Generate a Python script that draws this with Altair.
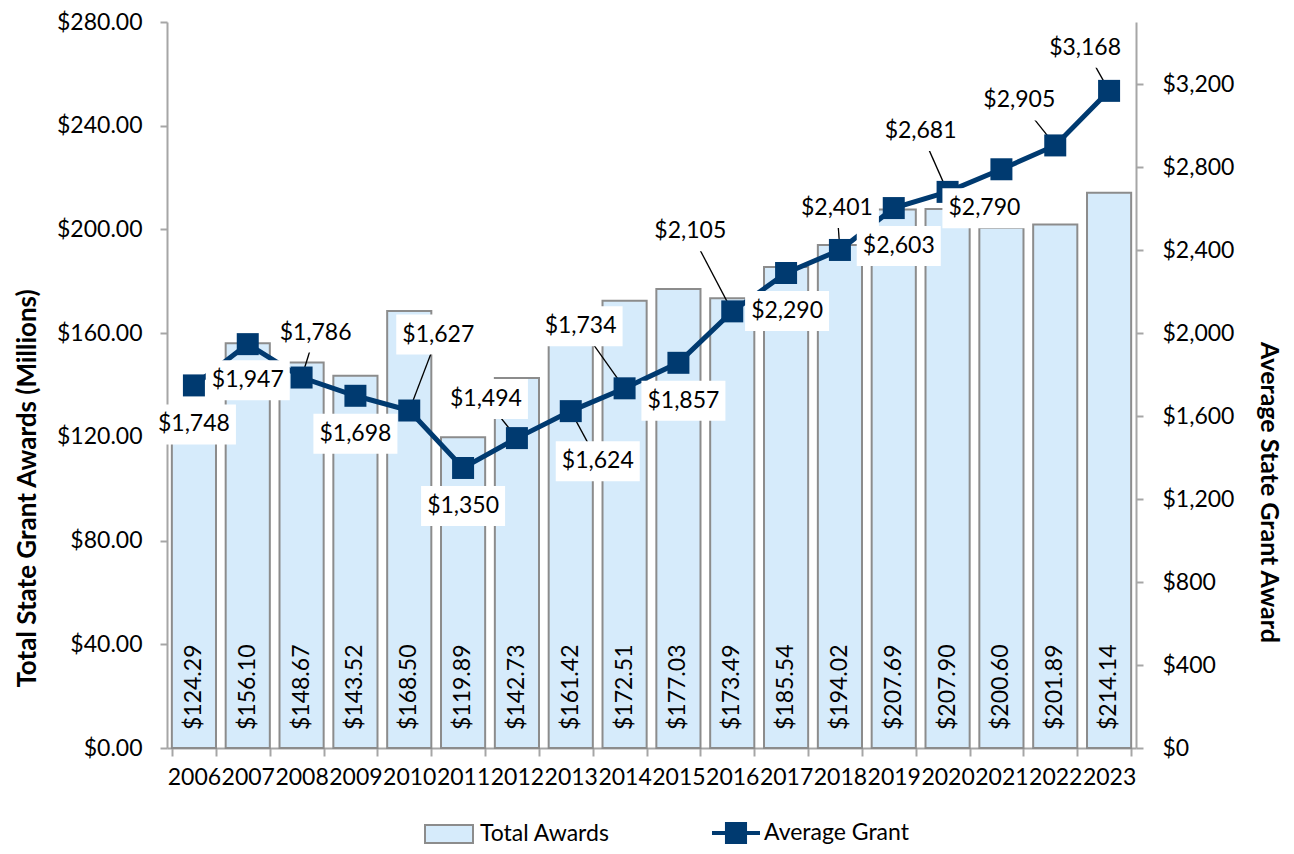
import altair as alt
import pandas as pd

# ---------------- data ----------------
years = list(range(2006, 2024))
total_awards = [124.29, 156.10, 148.67, 143.52, 168.50, 119.89, 142.73, 161.42, 172.51,
                177.03, 173.49, 185.54, 194.02, 207.69, 207.90, 200.60, 201.89, 214.14]
avg_grant = [1748, 1947, 1786, 1698, 1627, 1350, 1494, 1624, 1734,
             1857, 2105, 2290, 2401, 2603, 2681, 2790, 2905, 3168]
left_ticks = [0, 40, 80, 120, 160, 200, 240, 280]
right_ticks = [0, 400, 800, 1200, 1600, 2000, 2400, 2800, 3200]
series_names = ["Total Awards", "Average Grant"]

# ---------------- label placement (pixel offsets from each point; styling) ----------------
label_dx = [0, 0, 14, 0, 29, 0, -31, 27, -44, 5, -42, 1, -3, 5, -27, -17, -36, -24]
label_dy = [39, 36, -45, 38, -76, 38, -39, 50, -62, 38, -80, 38, -42, 38, -61, 39, -45, -43]
has_leader = [False, False, True, False, True, False, True, True, True,
              False, True, False, True, False, True, False, True, True]

W, H = 969, 726
LEFT_MAX, RIGHT_MAX = 280, 3500
step_px = W / len(years)
px_per_dollar = H / RIGHT_MAX

FONT = "Lato"
NAVY = "#003A70"
BAR_FILL = "#D6EBFB"
BAR_STROKE = "#8C8C8C"
AXIS_GRAY = "#A6A6A6"

df = pd.DataFrame({
    "year": [str(y) for y in years],
    "total": total_awards,
    "avg": avg_grant,
    "xq": list(range(len(years))),
    "leader": has_leader,
})
df["lx"] = df["xq"] + pd.Series(label_dx) / step_px
df["ly"] = df["avg"] - pd.Series(label_dy) / px_per_dollar
df["s1"] = series_names[0]
df["s2"] = series_names[1]

base = alt.Chart(df)

# ---------------- left group: bars ----------------
xband = alt.X("year:O",
              scale=alt.Scale(paddingInner=0.18, paddingOuter=0.09),
              axis=alt.Axis(title=None, tickBand="extent", labelAngle=0, labelOverlap=False,
                            labelBound=False, labelFlush=False, tickSize=8, labelPadding=10,
                            domainColor=AXIS_GRAY, tickColor=AXIS_GRAY, domainWidth=2, tickWidth=2))
yleft = alt.Y("total:Q",
              scale=alt.Scale(domain=[0, LEFT_MAX], nice=False),
              axis=alt.Axis(values=left_ticks, format="$,.2f", grid=False,
                            title="Total State Grant Awards (Millions)",
                            tickSize=7, labelPadding=18, domainColor=AXIS_GRAY, tickColor=AXIS_GRAY,
                            domainWidth=2, tickWidth=2, titleFontSize=26,
                            titleAngle=-90, titleX=-140, titleY=466, titleAlign="center",
                            titleBaseline="middle"))

bar_legend = alt.Legend(title=None, orient="none", legendX=257, legendY=787,
                        symbolType="M-1,-0.375H1V0.375H-1Z", symbolSize=2304,
                        symbolStrokeColor=BAR_STROKE, symbolStrokeWidth=2, labelOffset=6)

bars = base.mark_bar(stroke=BAR_STROKE, strokeWidth=2).encode(
    x=xband,
    y=yleft,
    fill=alt.Fill("s1:N", scale=alt.Scale(domain=[series_names[0]], range=[BAR_FILL]),
                  legend=bar_legend),
)

bar_labels = base.mark_text(angle=270, align="left", baseline="middle", dx=18,
                            font=FONT, fontSize=23, color="black").encode(
    x=alt.X("year:O", scale=alt.Scale(paddingInner=0.18, paddingOuter=0.09)),
    y=alt.Y("zero:Q", scale=alt.Scale(domain=[0, LEFT_MAX], nice=False)),
    text=alt.Text("total:Q", format="$,.2f"),
).transform_calculate(zero="0")

left = alt.layer(bars, bar_labels)

# ---------------- right group: line, markers, labels ----------------
xq_scale = alt.Scale(domain=[-0.5, len(years) - 0.5], nice=False, zero=False)
yr_scale = alt.Scale(domain=[0, RIGHT_MAX], nice=False)
yr_axis = alt.Axis(orient="right", values=right_ticks, format="$,.0f", grid=False,
                   title="Average State Grant Award", tickSize=7, labelPadding=19,
                   domainColor=AXIS_GRAY, tickColor=AXIS_GRAY, domainWidth=2, tickWidth=2,
                   titleFontSize=25,
                   titleAngle=90, titleX=132, titleY=470, titleAlign="center",
                   titleBaseline="middle")

def yr(field):
    return alt.Y(field, type="quantitative", scale=yr_scale, axis=yr_axis,
                 title="Average State Grant Award")

def xq(field):
    return alt.X(field, type="quantitative", scale=xq_scale, axis=None)

leaders = base.transform_filter("datum.leader").mark_rule(color="black", strokeWidth=1.3).encode(
    x=xq("xq"), x2="lx", y=yr("avg"), y2="ly")

line = base.mark_line(color=NAVY, strokeWidth=5).encode(x=xq("xq"), y=yr("avg"))

line_legend = alt.Legend(title=None, orient="none", legendX=545, legendY=787,
                         symbolType="M-1,-0.085H-0.46V-0.46H0.46V-0.085H1V0.085H0.46V0.46H-0.46V0.085H-1Z",
                         symbolSize=2304, symbolStrokeWidth=0, labelOffset=4)

markers = base.mark_point(shape="square", filled=True, size=484, opacity=1, strokeWidth=0).encode(
    x=xq("xq"), y=yr("avg"),
    fill=alt.Fill("s2:N", scale=alt.Scale(domain=[series_names[1]], range=[NAVY]),
                  legend=line_legend),
)

boxes = base.mark_point(shape="M-1,-0.476H1V0.476H-1Z", filled=True, color="white",
                        opacity=1, size=7056, strokeWidth=0).encode(x=xq("lx"), y=yr("ly"))

labels = base.mark_text(font=FONT, fontSize=23, color="black", baseline="middle").encode(
    x=xq("lx"), y=yr("ly"), text=alt.Text("avg:Q", format="$,.0f"))

right = alt.layer(leaders, line, markers, boxes, labels)

chart = alt.layer(left, right).resolve_scale(
    x="independent", y="independent", fill="independent"
).properties(
    width=W, height=H,
    autosize=alt.AutoSizeParams(type="none"),
    padding={"left": 159, "top": 14, "right": 150, "bottom": 98},
).configure_view(stroke=None).configure_axis(
    labelFont=FONT, labelFontSize=23, labelColor="black",
    titleFont=FONT, titleFontWeight="bold", titleColor="black",
).configure_legend(
    labelFont=FONT, labelFontSize=23, labelColor="black", padding=0, direction="horizontal",
)

chart.save("out.html", embed_options={"renderer": "svg", "actions": False})
